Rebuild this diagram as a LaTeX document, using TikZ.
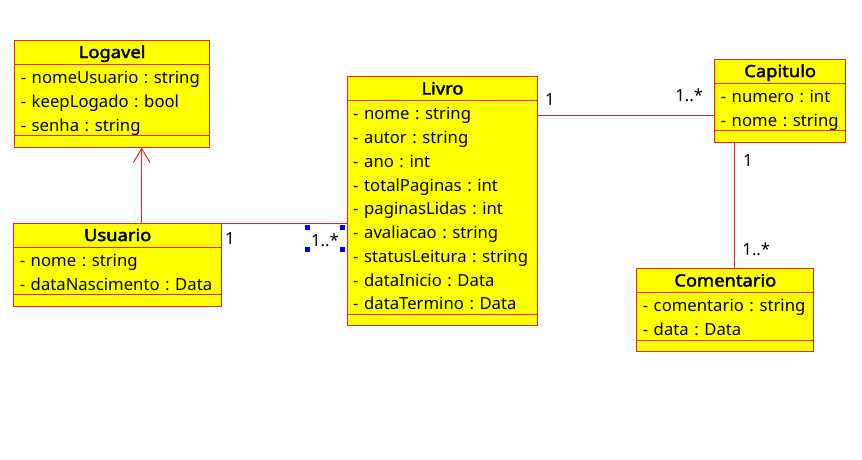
\documentclass[tikz,border=0pt]{standalone}
\usepackage{fontspec}
\setmainfont{Noto Sans}[BoldFont=*,BoldFeatures={FakeBold=2.4,FakeStretch=1.10}]
\usetikzlibrary{shapes.multipart,arrows.meta}
\definecolor{umlred}{HTML}{EE2222}
\definecolor{umlyellow}{HTML}{FFFF00}
\definecolor{handle}{HTML}{0000EE}
\newcommand{\row}{\rule[-4pt]{0pt}{22.55pt}}
\newcommand{\ops}{\rule{0pt}{10.5pt}}
\newcommand{\classname}[1]{\hfil\rule[-6pt]{0pt}{23pt}\textbf{#1}\hfil}
\tikzset{every node/.style={font=\fontsize{16.7}{23.75}\selectfont\frenchspacing},
  umlclass/.style={rectangle split,rectangle split parts=3,draw=umlred,fill=umlyellow,
    line width=1pt,inner xsep=6pt,inner ysep=0pt,anchor=north west,align=left},
  mult/.style={inner sep=0pt},
  assoc/.style={draw=umlred,line width=1pt}}

\begin{document}
\begin{tikzpicture}[x=1pt,y=-1pt]
  \useasboundingbox (0,0) rectangle (862,459);
      \node[umlclass,text width=182.7pt] (logavel) at (14.3,40)
        {\classname{Logavel}
         \nodepart{two}\row- nomeUsuario : string\\\row- keepLogado : bool\\\row- senha : string
         \nodepart{three}\ops};
      \node[umlclass,text width=195.7pt] (usuario) at (13.3,223)
        {\classname{Usuario}
         \nodepart{two}\row- nome : string\\\row- dataNascimento : Data
         \nodepart{three}\ops};
      \node[umlclass,text width=178.6pt] (livro) at (346.7,76.4)
        {\classname{Livro}
         \nodepart{two}\row- nome : string\\\row- autor : string\\\row- ano : int\\
           \row- totalPaginas : int\\\row- paginasLidas : int\\\row- avaliacao : string\\
           \row- statusLeitura : string\\\row- dataInicio : Data\\\row- dataTermino : Data
         \nodepart{three}\ops};
      \node[umlclass,text width=118.7pt] (capitulo) at (714.3,59)
        {\classname{Capitulo}
         \nodepart{two}\row- numero : int\\\row- nome : string
         \nodepart{three}\ops};
      \node[umlclass,text width=165pt] (comentario) at (636.3,268.4)
        {\classname{Comentario}
         \nodepart{two}\row- comentario : string\\\row- data : Data
         \nodepart{three}\ops};

      \coordinate (gen) at ([xshift=128.4pt]usuario.north west);
      \coordinate (cap) at ([yshift=-14.4pt]capitulo.west);
      \coordinate (com) at ([xshift=19.7pt]capitulo.south west);

      \draw[assoc,-{Straight Barb[length=14pt,width=16.6pt]}] (gen) -- (gen |- logavel.south);
      \draw[assoc] (usuario.north east) -- (usuario.north east -| livro.west);
      \draw[assoc] (cap) -- (cap -| livro.east);
      \draw[assoc] (com) -- (com |- comentario.north);

      \node[mult] (u1) at (230,238.3) {1};
      \node[mult] (l1) at (325,240.7) {1..*};
      \node[mult] (l2) at (550,99.7) {1};
      \node[mult] (c1) at (689.2,95) {1..*};
      \node[mult] (c2) at (748,160.3) {1};
      \node[mult] (k1) at (756.3,249.3) {1..*};

\foreach \x/\y in {307.5/227.2,342.8/227.2,307.5/249.4,342.8/249.4}
  \fill[handle] (\x-2.5,\y-2.5) rectangle (\x+2.5,\y+2.5);
    \end{tikzpicture}
\end{document}
